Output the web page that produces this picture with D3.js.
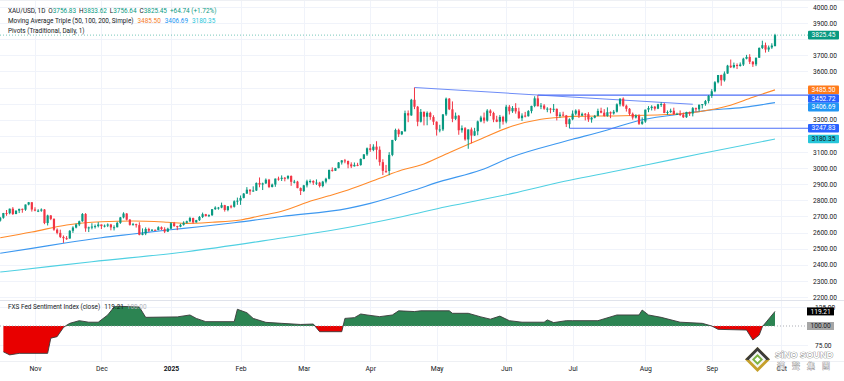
<!DOCTYPE html>
<html><head><meta charset="utf-8">
<script src="https://cdn.jsdelivr.net/npm/d3@7"></script>
<style>body{margin:0;background:#fff;}svg{display:block;font-family:Roboto,"Liberation Sans",sans-serif;}</style>
</head><body><svg id="c" width="844" height="381"></svg>
<script>
// ---------- DATA ----------
const tradingDays = [
 ["2024-10",[17,18,21,22,23,24,25,28,29,30,31]],
 ["2024-11",[1,4,5,6,7,8,11,12,13,14,15,18,19,20,21,22,25,26,27,28,29]],
 ["2024-12",[2,3,4,5,6,9,10,11,12,13,16,17,18,19,20,23,24,25,26,27,30,31]],
 ["2025-01",[2,3,6,7,8,9,10,13,14,15,16,17,20,21,22,23,24,27,28,29,30,31]],
 ["2025-02",[3,4,5,6,7,10,11,12,13,14,17,18,19,20,21,24,25,26,27,28]],
 ["2025-03",[3,4,5,6,7,10,11,12,13,14,17,18,19,20,21,24,25,26,27,28,31]],
 ["2025-04",[1,2,3,4,7,8,9,10,11,14,15,16,17,21,22,23,24,25,28,29,30]],
 ["2025-05",[1,2,5,6,7,8,9,12,13,14,15,16,19,20,21,22,23,26,27,28,29,30]],
 ["2025-06",[2,3,4,5,6,9,10,11,12,13,16,17,18,19,20,23,24,25,26,27,30]],
 ["2025-07",[1,2,3,4,7,8,9,10,11,14,15,16,17,18,21,22,23,24,25,28,29,30,31]],
 ["2025-08",[1,4,5,6,7,8,11,12,13,14,15,18,19,20,21,22,25,26,27,28,29]],
 ["2025-09",[1,2,3,4,5,8,9,10,11,12,15,16,17,18,19,22,23,24,25,26,29]]
];
const open = [
 [2674,2692,2721,2720,2748,2715,2736,2747,2742,2774,2788],
 [2743,2736,2736,2743,2659,2706,2685,2618,2598,2573,2565,2563,2611,2631,2650,2670,2715,2626,2632,2637,2640],
 [2650,2640,2643,2650,2632,2633,2660,2694,2718,2680,2648,2652,2646,2586,2594,2622,2612,2617,2616,2633,2621,2606],
 [2624,2658,2640,2636,2648,2661,2670,2690,2663,2677,2697,2714,2702,2708,2745,2755,2755,2770,2740,2763,2760,2794],
 [2798,2815,2842,2866,2856,2861,2908,2898,2905,2928,2883,2898,2935,2933,2940,2936,2951,2915,2916,2876],
 [2858,2893,2918,2920,2910,2910,2889,2916,2934,2989,2984,3000,3035,3048,3044,3023,3011,3020,3019,3057,3085],
 [3123,3113,3133,3114,3037,2983,2982,3082,3175,3237,3210,3228,3341,3327,3424,3381,3288,3349,3319,3343,3317],
 [3288,3239,3240,3333,3431,3365,3306,3325,3235,3248,3178,3240,3202,3229,3290,3314,3295,3357,3342,3301,3288,3318],
 [3289,3381,3353,3373,3352,3310,3326,3322,3354,3386,3433,3384,3388,3369,3369,3368,3368,3323,3332,3327,3273],
 [3303,3338,3357,3326,3337,3335,3302,3313,3324,3355,3344,3324,3347,3339,3350,3396,3431,3387,3368,3337,3314,3326,3275],
 [3289,3363,3373,3381,3369,3396,3398,3342,3348,3356,3335,3336,3332,3316,3348,3339,3372,3365,3394,3397,3416],
 [3448,3477,3533,3578,3545,3587,3636,3626,3640,3634,3643,3679,3690,3660,3644,3685,3746,3763,3736,3749,3756.83]
].flat();
const high = [
 [2697,2722,2740,2749,2758,2737,2748,2749,2774,2790,2789],
 [2757,2745,2750,2746,2711,2709,2688,2626,2618,2582,2578,2615,2639,2656,2674,2721,2721,2637,2658,2650,2665],
 [2650,2650,2657,2654,2645,2667,2697,2726,2721,2684,2660,2655,2664,2626,2632,2630,2622,2619,2639,2638,2633,2630],
 [2664,2666,2642,2655,2670,2674,2698,2693,2679,2703,2724,2716,2713,2746,2763,2759,2786,2772,2765,2772,2800,2817],
 [2830,2845,2882,2869,2887,2911,2942,2910,2936,2933,2904,2935,2947,2955,2945,2956,2955,2927,2921,2880],
 [2896,2928,2930,2925,2930,2915,2921,2940,2990,3005,3002,3038,3050,3057,3047,3036,3035,3033,3060,3087,3128],
 [3149,3148,3167,3135,3055,3020,3099,3175,3245,3245,3230,3357,3358,3430,3500,3386,3367,3352,3352,3350,3328],
 [3290,3269,3336,3438,3435,3414,3345,3330,3265,3255,3240,3252,3250,3295,3325,3345,3366,3365,3350,3325,3330,3325],
 [3393,3392,3385,3403,3375,3340,3349,3360,3387,3446,3452.72,3404,3397,3378,3374,3398,3370,3347,3350,3330,3309],
 [3358,3365,3366,3345,3342,3347,3317,3330,3369,3375,3366,3377,3352,3361,3402,3433,3439,3394,3373,3345,3334,3334,3315],
 [3363,3385,3390,3386,3399,3409,3405,3358,3369,3375,3344,3358,3345,3350,3351,3379,3376,3393,3398,3423,3454],
 [3490,3540,3578,3580,3600,3641,3674,3655,3650,3656,3685,3703,3707,3665,3686,3749,3791,3779,3761,3775,3833.62]
].flat();
const low = [
 [2668,2686,2704,2713,2709,2714,2721,2723,2735,2769,2730],
 [2732,2727,2729,2652,2644,2677,2611,2589,2566,2536,2555,2562,2598,2626,2640,2667,2605,2603,2620,2625,2632],
 [2622,2632,2634,2614,2613,2632,2654,2688,2675,2643,2644,2631,2583,2583,2584,2603,2611,2612,2614,2616,2597,2603],
 [2622,2636,2615,2633,2643,2656,2665,2656,2662,2672,2690,2700,2696,2703,2741,2742,2751,2730,2732,2750,2755,2772],
 [2772,2812,2840,2834,2853,2858,2881,2864,2902,2876,2880,2884,2922,2920,2918,2930,2890,2905,2875,2833],
 [2852,2880,2905,2896,2895,2880,2881,2905,2930,2978,2982,2999,3022,3030,2999,3000,3010,3012,3015,3055,3076],
 [3101,3105,3054,3015,2957,2970,2956,3074,3168,3193,3205,3228,3285,3325,3366,3260,3283,3265,3266,3300,3268],
 [3202,3222,3230,3324,3360,3285,3298,3207,3220,3170,3120,3154,3200,3204,3285,3278,3288,3323,3285,3285,3245,3270],
 [3278,3333,3343,3338,3306,3293,3315,3320,3340,3378,3383,3366,3362,3347,3340,3348,3296,3312,3321,3255,3247.83],
 [3297,3328,3311,3322,3296,3287,3282,3309,3322,3340,3320,3319,3310,3332,3345,3383,3381,3351,3325,3301,3308,3268,3269],
 [3281,3347,3358,3357,3366,3380,3341,3331,3343,3330,3330,3323,3311,3312,3324,3321,3351,3351,3370,3387,3402],
 [3436,3471,3526,3511,3537,3585,3621,3620,3615,3630,3634,3675,3646,3628,3633,3684,3739,3717,3722,3740,3756.64]
].flat();
const close = [
 [2692,2721,2720,2748,2715,2736,2747,2742,2774,2788,2743],
 [2736,2736,2743,2659,2706,2685,2618,2598,2573,2565,2563,2611,2631,2650,2670,2715,2626,2632,2637,2640,2650],
 [2640,2643,2650,2632,2633,2660,2694,2718,2680,2648,2652,2646,2586,2594,2622,2612,2617,2616,2633,2621,2606,2624],
 [2658,2640,2636,2648,2661,2670,2690,2663,2677,2697,2714,2702,2708,2745,2755,2755,2770,2740,2763,2760,2794,2798],
 [2815,2842,2866,2856,2861,2908,2898,2905,2928,2883,2898,2935,2933,2940,2936,2951,2915,2916,2876,2858],
 [2893,2918,2920,2910,2910,2889,2916,2934,2989,2984,3000,3035,3048,3044,3023,3011,3020,3019,3057,3085,3123],
 [3113,3133,3114,3037,2983,2982,3082,3175,3237,3210,3228,3341,3327,3424,3381,3288,3349,3319,3343,3317,3288],
 [3239,3240,3333,3431,3365,3306,3325,3235,3248,3178,3240,3202,3229,3290,3314,3295,3357,3342,3301,3288,3318,3289],
 [3381,3353,3373,3352,3310,3326,3322,3354,3386,3433,3384,3388,3369,3369,3368,3368,3323,3332,3327,3273,3303],
 [3338,3357,3326,3337,3335,3302,3313,3324,3355,3344,3324,3347,3339,3350,3396,3431,3387,3368,3337,3314,3326,3275,3289],
 [3363,3373,3381,3369,3396,3398,3342,3348,3356,3335,3336,3332,3316,3348,3339,3372,3365,3394,3397,3416,3448],
 [3477,3533,3578,3545,3587,3636,3626,3640,3634,3643,3679,3690,3660,3644,3685,3746,3763,3736,3749,3760.71,3825.45]
].flat();

// Moving averages (date, value)
const sma50 = [["2024-10-17",2568],["2024-10-31",2603],["2024-11-15",2647],["2024-12-02",2667],["2024-12-16",2672],["2024-12-31",2664],["2025-01-09",2657],["2025-01-21",2664],["2025-02-03",2678],["2025-02-11",2703],["2025-02-20",2732],["2025-03-06",2800],["2025-03-13",2828],["2025-03-21",2864],["2025-04-04",2937],["2025-04-15",2988],["2025-04-24",3019],["2025-05-06",3088],["2025-05-21",3181],["2025-06-04",3261],["2025-06-17",3303],["2025-06-25",3316],["2025-07-01",3321],["2025-07-23",3325],["2025-08-14",3334],["2025-08-26",3350],["2025-09-08",3385],["2025-09-18",3440],["2025-09-29",3485.50]];
const sma100 = [["2024-10-17",2472],["2024-10-31",2502],["2024-11-15",2537],["2024-12-02",2568],["2024-12-16",2591],["2024-12-31",2616],["2025-01-15",2636],["2025-01-30",2661],["2025-02-20",2700],["2025-03-21",2750],["2025-04-01",2781],["2025-04-22",2864],["2025-05-02",2916],["2025-05-21",2988],["2025-06-04",3071],["2025-06-25",3158],["2025-07-01",3179],["2025-07-16",3237],["2025-07-30",3296],["2025-08-14",3330],["2025-08-28",3357],["2025-09-15",3377],["2025-09-29",3406.69]];
const sma200 = [["2024-10-17",2355],["2024-10-25",2368],["2024-11-27",2419],["2025-01-09",2481],["2025-02-20",2566],["2025-03-13",2611],["2025-04-15",2698],["2025-05-06",2760],["2025-06-04",2843],["2025-06-25",2912],["2025-08-04",3022],["2025-08-26",3088],["2025-09-29",3180.35]];

// FXS Fed Sentiment Index (close)
const sentiment = [["2024-10-18",66],["2024-10-22",62],["2024-10-25",64],["2024-11-07",64],["2024-11-08",84],["2024-11-12",86],["2024-11-14",98],["2024-11-15",101],["2024-11-18",103.5],["2024-11-21",107],["2024-11-26",105],["2024-11-29",105],["2024-12-04",114.5],["2024-12-06",125],["2024-12-09",126],["2024-12-18",125],["2024-12-20",111.4],["2025-01-06",112],["2025-01-10",114.5],["2025-01-14",110],["2025-01-17",105.7],["2025-01-30",105.7],["2025-01-31",122],["2025-02-05",117.5],["2025-02-07",110],["2025-02-13",104.8],["2025-02-20",103.5],["2025-02-28",102],["2025-03-06",102.6],["2025-03-10",92.5],["2025-03-19",92.5],["2025-03-20",110],["2025-03-25",111],["2025-03-27",115.8],["2025-03-31",114.5],["2025-04-04",112.3],["2025-04-10",114.5],["2025-04-14",120],["2025-04-22",119],["2025-04-24",120],["2025-05-07",120],["2025-05-08",116.7],["2025-05-15",116.7],["2025-05-21",112],["2025-05-26",109],["2025-05-29",113],["2025-06-03",107],["2025-06-09",105],["2025-06-18",105],["2025-06-19",108],["2025-06-23",104.5],["2025-06-27",107],["2025-07-01",107],["2025-07-11",107],["2025-07-21",114.5],["2025-07-30",114.5],["2025-07-31",121],["2025-08-04",114.5],["2025-08-08",111.4],["2025-08-18",105],["2025-08-27",103.5],["2025-09-01",100],["2025-09-03",95.6],["2025-09-16",94.7],["2025-09-18",81.6],["2025-09-22",88],["2025-09-23",99],["2025-09-29",119.21]];
const sentimentBase = 100;

// User-drawn lines
const trendLine = [["2025-04-22",3500],["2025-08-22",3396]];
const levels = [{from:"2025-06-16", value:3452.72},{from:"2025-06-30", value:3247.83}];

const priceTicks = d3.range(2200, 4001, 100);
const sentTicks = [75, 125];
const monthShort = ["Jan","Feb","Mar","Apr","May","Jun","Jul","Aug","Sep","Oct","Nov","Dec"];
const futureMonth = {label:"Oct", barsAfterLast:2};

// ---------- CHART ----------
const W = 844, H = 381;
const plotR = 808, priceB = 300, subT = 301, subB = 361;
const dates = tradingDays.flatMap(([m, ds]) => ds.map(d => m + "-" + String(d).padStart(2, "0")));
const N = dates.length;
const idx = new Map(dates.map((d, i) => [d, i]));
const x = d3.scaleLinear().domain([0, N - 1]).range([0.2, 775]);
const y = d3.scaleLinear().domain([2200, 4000]).range([297, 7]);
const ys = d3.scaleLinear().domain([75, 125]).range([345, 307]);

const UP = "#089981", DN = "#f23645", TXT = "#131722";
const C50 = "#ff8a2a", C100 = "#3d98f0", C200 = "#4fd0e2", CPIV = "#4d6ff7";

const svg = d3.select("#c");
svg.append("rect").attr("width", W).attr("height", H).attr("fill", "#fff");
const defs = svg.append("defs");
const clip = (id, x0, y0, w, h) => defs.append("clipPath").attr("id", id).append("rect").attr("x", x0).attr("y", y0).attr("width", w).attr("height", h);
clip("cp", 0, 0, plotR, priceB);
clip("cs", 0, subT, plotR, subB - subT);
clip("ca", 0, subT, plotR, ys(sentimentBase) - subT);
clip("cb", 0, ys(sentimentBase), plotR, subB - ys(sentimentBase));
clip("cpa", plotR, 0, W - plotR, priceB);

// month ticks
const monthTicks = [];
dates.forEach((d, i) => { if (i > 0 && d.slice(0, 7) !== dates[i - 1].slice(0, 7)) monthTicks.push({i, m: +d.slice(5, 7), yr: d.slice(0, 4)}); });
monthTicks.push({i: N - 1 + futureMonth.barsAfterLast, m: 10, yr: "2025", label: futureMonth.label});
const tickLabel = t => t.label || (t.m === 1 ? t.yr : monthShort[t.m - 1]);

// grid
const grid = svg.append("g").attr("stroke", "#f0f3fa").attr("stroke-width", 1);
priceTicks.forEach(t => grid.append("line").attr("x1", 0).attr("x2", plotR).attr("y1", Math.round(y(t)) + 0.5).attr("y2", Math.round(y(t)) + 0.5).attr("clip-path", "url(#cp)"));
sentTicks.forEach(t => grid.append("line").attr("x1", 0).attr("x2", plotR).attr("y1", Math.round(ys(t)) + 0.5).attr("y2", Math.round(ys(t)) + 0.5));
monthTicks.forEach(t => grid.append("line").attr("x1", Math.round(x(t.i)) + 0.5).attr("x2", Math.round(x(t.i)) + 0.5).attr("y1", 0).attr("y2", subB));
// pane borders
svg.append("line").attr("x1", 0).attr("x2", W).attr("y1", priceB + 0.5).attr("y2", priceB + 0.5).attr("stroke", "#e0e3eb");
svg.append("line").attr("x1", 0).attr("x2", W).attr("y1", subB + 0.5).attr("y2", subB + 0.5).attr("stroke", "#eef0f4");
svg.append("line").attr("x1", 0).attr("x2", W).attr("y1", 0.5).attr("y2", 0.5).attr("stroke", "#eef0f4");

// price pane
const pp = svg.append("g").attr("clip-path", "url(#cp)");
const maLine = d3.line().x(d => x(idx.get(d[0]))).y(d => y(d[1])).curve(d3.curveMonotoneX);
[[sma200, C200], [sma100, C100], [sma50, C50]].forEach(([s, c]) =>
  pp.append("path").attr("d", maLine(s)).attr("fill", "none").attr("stroke", c).attr("stroke-width", 1.1));

// drawn lines
pp.append("line").attr("x1", x(idx.get(trendLine[0][0]))).attr("y1", y(trendLine[0][1]))
  .attr("x2", x(idx.get(trendLine[1][0]))).attr("y2", y(trendLine[1][1])).attr("stroke", "#6d8cf7").attr("stroke-width", 1.1);
levels.forEach(l => pp.append("line").attr("x1", x(idx.get(l.from))).attr("x2", plotR)
  .attr("y1", y(l.value)).attr("y2", y(l.value)).attr("stroke", CPIV).attr("stroke-width", 1.1));

// candles
const cg = pp.append("g");
dates.forEach((d, i) => {
  const cx = x(i), col = close[i] >= open[i] ? UP : DN;
  cg.append("rect").attr("x", cx - 0.5).attr("width", 1).attr("y", y(high[i])).attr("height", Math.max(0.8, y(low[i]) - y(high[i]))).attr("fill", col);
  const top = y(Math.max(open[i], close[i])), bot = y(Math.min(open[i], close[i]));
  cg.append("rect").attr("x", cx - 1.1).attr("width", 2.2).attr("y", top).attr("height", Math.max(1, bot - top)).attr("fill", col);
});

// last price dotted line
pp.append("line").attr("x1", 0).attr("x2", plotR).attr("y1", y(close[N - 1])).attr("y2", y(close[N - 1]))
  .attr("stroke", UP).attr("stroke-opacity", 0.55).attr("stroke-dasharray", "1,2");

// price axis
const hiddenNear = [close[N - 1], sma50[sma50.length - 1][1], sma100[sma100.length - 1][1], sma200[sma200.length - 1][1], ...levels.map(l => l.value)];
const visTicks = priceTicks.filter(t => hiddenNear.every(v => Math.abs(y(t) - y(v)) > 7.5));
const paWrap = svg.append("g").attr("clip-path", "url(#cpa)");
const pa = paWrap.append("g").attr("transform", `translate(${plotR + 1},0)`)
  .call(d3.axisRight(y).tickValues(visTicks).tickSize(0).tickPadding(4).tickFormat(d3.format(".2f")));
pa.select(".domain").remove();
pa.selectAll("text").attr("font-size", 6.6).attr("fill", TXT).attr("font-family", "Roboto, sans-serif");

// price labels (boxes)
const boxes = [
  {v: close[N - 1], bg: UP, fg: "#fff"},
  {v: sma50[sma50.length - 1][1], bg: "#ff7a1a", fg: "#fff"},
  {v: levels[0].value, bg: "#2962ff", fg: "#fff"},
  {v: sma100[sma100.length - 1][1], bg: "#2196f3", fg: "#fff"},
  {v: levels[1].value, bg: "#2962ff", fg: "#fff"},
  {v: sma200[sma200.length - 1][1], bg: "#26c6da", fg: TXT}
].map(b => ({...b, cy: y(b.v)})).sort((a, b) => a.cy - b.cy);
const BH = 8.6;
for (let k = 1; k < boxes.length; k++) if (boxes[k].cy < boxes[k - 1].cy + BH) boxes[k].cy = boxes[k - 1].cy + BH;
boxes.forEach(b => {
  svg.append("rect").attr("x", plotR).attr("y", b.cy - BH / 2).attr("width", 31).attr("height", BH).attr("rx", 1).attr("fill", b.bg);
  svg.append("text").attr("x", plotR + 3.5).attr("y", b.cy).attr("dy", "0.35em").attr("font-size", 6.6).attr("fill", b.fg).text(d3.format(".2f")(b.v));
});

// sentiment pane
const sp = svg.append("g").attr("clip-path", "url(#cs)");
const sx = d => x(idx.get(d[0]));
const area = d3.area().x(sx).y0(ys(sentimentBase)).y1(d => ys(d[1]));
sp.append("path").attr("d", area(sentiment)).attr("fill", "#2c8452").attr("clip-path", "url(#ca)");
sp.append("path").attr("d", area(sentiment)).attr("fill", "#e80000").attr("clip-path", "url(#cb)");
sp.append("line").attr("x1", 0).attr("x2", plotR).attr("y1", ys(sentimentBase)).attr("y2", ys(sentimentBase))
  .attr("stroke", "#9598a1").attr("stroke-dasharray", "1,2").attr("stroke-width", 0.8);
sp.append("path").attr("d", d3.line().x(sx).y(d => ys(d[1]))(sentiment)).attr("fill", "none").attr("stroke", "#3a3a3a").attr("stroke-width", 0.9);

const sa = svg.append("g").attr("transform", `translate(${plotR + 1},0)`)
  .call(d3.axisRight(ys).tickValues(sentTicks).tickSize(0).tickPadding(6).tickFormat(d3.format(".2f")));
sa.select(".domain").remove();
sa.selectAll("text").attr("font-size", 6.6).attr("fill", TXT).attr("font-family", "Roboto, sans-serif");
const sLast = sentiment[sentiment.length - 1][1];
[[sLast, "#000", "#fff"], [sentimentBase, "#a6a6a6", TXT]].forEach(([v, bg, fg]) => {
  svg.append("rect").attr("x", plotR - 1).attr("y", ys(v) - 4).attr("width", 27).attr("height", 8).attr("fill", bg);
  svg.append("text").attr("x", plotR + 2.5).attr("y", ys(v)).attr("dy", "0.35em").attr("font-size", 6.6).attr("fill", fg).text(d3.format(".2f")(v));
});

// time axis
const ta = svg.append("g").attr("transform", `translate(0,${subB})`)
  .call(d3.axisBottom(x).tickValues(monthTicks.map(t => t.i)).tickSize(0).tickPadding(5)
    .tickFormat((v, k) => tickLabel(monthTicks[k])));
ta.select(".domain").remove();
ta.selectAll("text").attr("font-size", 6.8).attr("fill", TXT).attr("font-family", "Roboto, sans-serif")
  .attr("font-weight", (v, k) => monthTicks[k].m === 1 ? "bold" : "normal");

// legends
const fmt = d3.format(".2f");
const chg = close[N - 1] - close[N - 2];
const lg = svg.append("g").attr("font-size", 6.4).attr("fill", TXT);
const l1 = lg.append("text").attr("x", 8).attr("y", 13);
l1.append("tspan").text("XAU/USD, 1D");
[["O", open[N - 1]], ["H", high[N - 1]], ["L", low[N - 1]], ["C", close[N - 1]]].forEach(([k, v]) => {
  l1.append("tspan").attr("dx", 3).text(k);
  l1.append("tspan").attr("fill", UP).text(fmt(v));
});
l1.append("tspan").attr("dx", 3).attr("fill", UP).text(`+${fmt(chg)} (+${fmt(chg / close[N - 2] * 100)}%)`);
const l2 = lg.append("text").attr("x", 8).attr("y", 23);
l2.append("tspan").text("Moving Average Triple (50, 100, 200, Simple)");
[[sma50, "#f57c1f"], [sma100, "#2196f3"], [sma200, "#26c6da"]].forEach(([s, c]) =>
  l2.append("tspan").attr("dx", 4).attr("fill", c).text(fmt(s[s.length - 1][1])));
lg.append("text").attr("x", 8).attr("y", 33).text("Pivots (Traditional, Daily, 1)");
const l4 = lg.append("text").attr("x", 8).attr("y", 309);
l4.append("tspan").text("FXS Fed Sentiment Index (close)");
l4.append("tspan").attr("dx", 4).text(fmt(sLast));
l4.append("tspan").attr("dx", 3).attr("fill", "#b2b5be").text(fmt(sentimentBase));

// watermark
const wm = svg.append("g");
const cxw = 757.5, cyw = 359.5;
const dia = r => `${cxw - r},${cyw} ${cxw},${cyw - r} ${cxw + r},${cyw} ${cxw},${cyw + r}`;
wm.append("polygon").attr("points", dia(12.5)).attr("fill", "#c5a02c");
wm.append("polygon").attr("points", `${cxw - 12.5},${cyw} ${cxw},${cyw - 12.5} ${cxw + 12.5},${cyw} ${cxw + 6},${cyw + 1} ${cxw - 6},${cyw + 1}`).attr("fill", "#3a3a3a");
wm.append("polygon").attr("points", dia(8.5)).attr("fill", "#f4f4f4");
wm.append("polygon").attr("points", dia(5.5)).attr("fill", "#7cb342");
wm.append("polygon").attr("points", dia(2.8)).attr("fill", "#fff");
wm.append("text").attr("x", 775).attr("y", 357.5).attr("font-size", 9.2).attr("font-weight", "bold")
  .attr("font-family", "'Liberation Sans', Arial, sans-serif").attr("fill", "#fff").attr("stroke", "#777").attr("stroke-width", 0.7)
  .attr("paint-order", "stroke").text("SiNO SOUND");
wm.append("text").attr("x", 777).attr("y", 368.5).attr("font-size", 8).attr("font-family", "'Noto Sans CJK TC', sans-serif")
  .attr("fill", "#fff").attr("stroke", "#888").attr("stroke-width", 0.6).attr("paint-order", "stroke")
  .attr("letter-spacing", 7).text("漢聲集團");
</script></body></html>
